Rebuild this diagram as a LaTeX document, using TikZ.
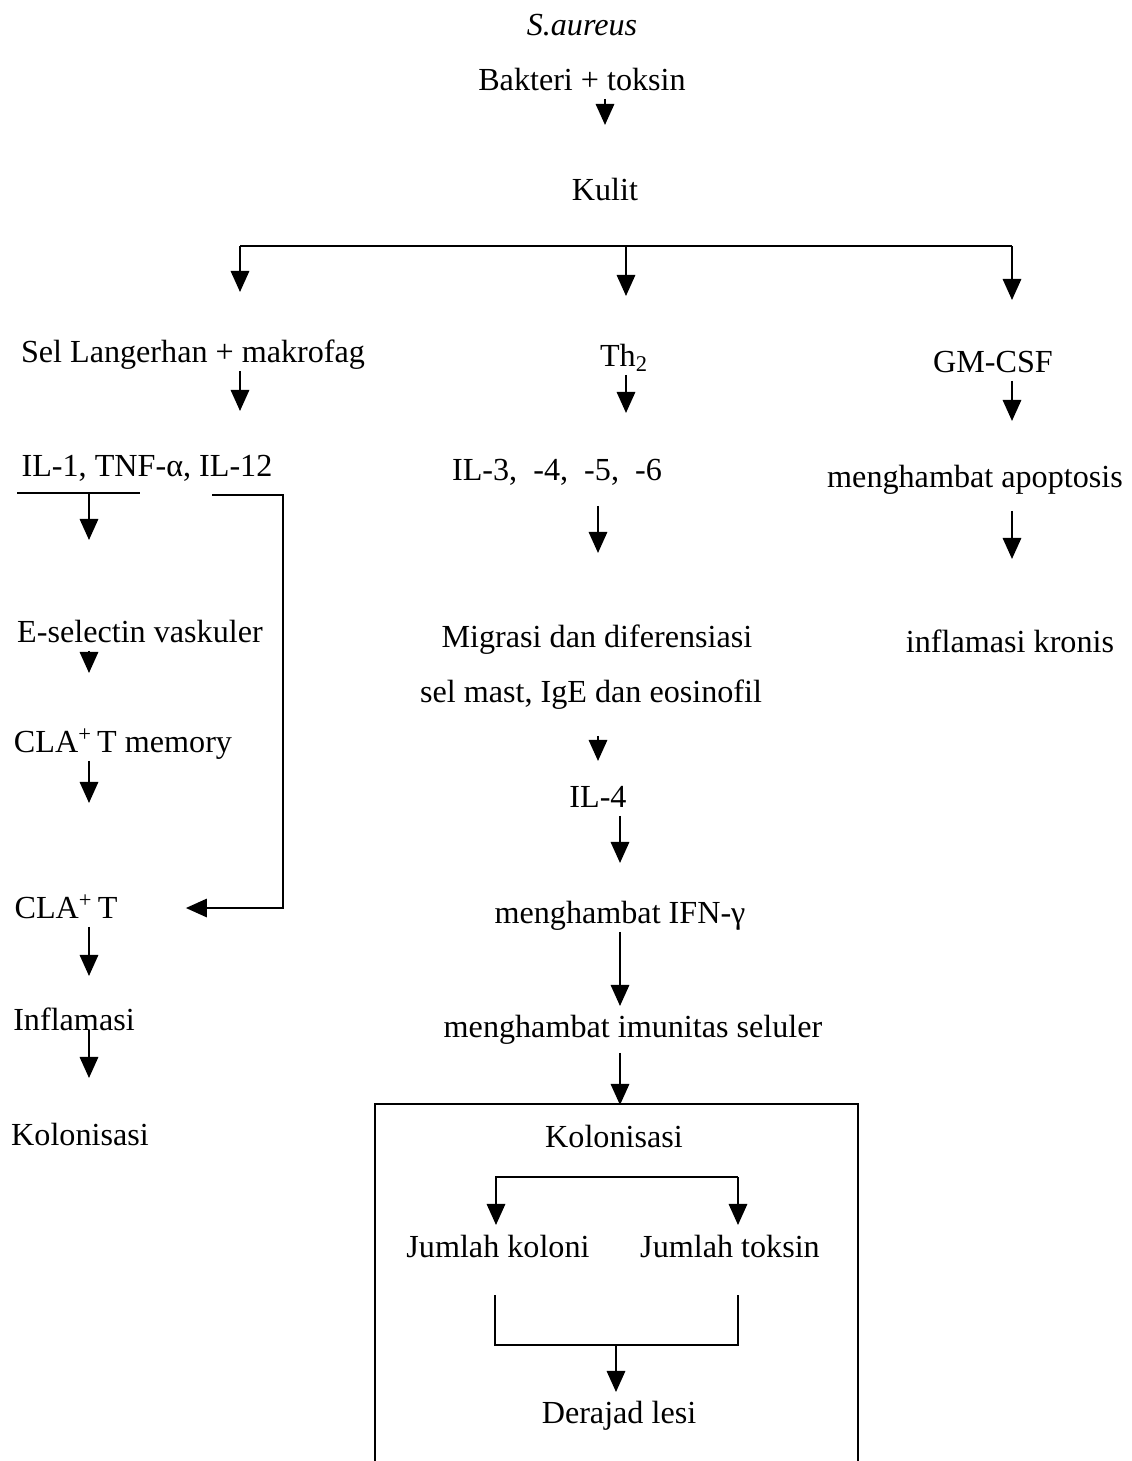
\documentclass[tikz,border=0pt]{standalone}
\usepackage{fontspec}
\setmainfont{Liberation Serif}
\usetikzlibrary{arrows.meta}

\tikzset{
  lbl/.style={font=\fontsize{18.3}{22}\selectfont, text height=14.5pt, text depth=2pt, inner sep=2pt},
  arr/.style={->}
}

\begin{document}
\begin{tikzpicture}[x=0.02cm, y=-0.02cm, >={Triangle[length=12pt,width=10.5pt]}, line width=1.1pt, every node/.style={lbl}]
	\useasboundingbox (0,0) rectangle (1132,1461);

	% columns for the arrows
	\coordinate (cA) at (240,0);
	\coordinate (cB) at (626,0);
	\coordinate (cC) at (1012,0);
	\coordinate (cL) at (89,0);
	\coordinate (cM) at (598,0);
	\coordinate (cN) at (620,0);
	\coordinate (cR) at (283,0);

	\node (sa)   at (582,25)   {\textit{S.aureus}};
	\node (bak)  at (582,80)   {Bakteri + toksin};
	\node (kul)  at (605,190)  {Kulit};

	\node (lang) at (193,352)  {Sel Langerhan + makrofag};
	\node (th)   at (624,356)  {Th\textsubscript{2}};
	\node (gm)   at (993,362)  {GM-CSF};

	\node (il1)  at (147,466)  {IL-1, TNF-α, IL-12};
	\node (il3)  at (557,470)  {IL-3,\ \ -4,\ \ -5,\ \ -6};
	\node (apo)  at (975,477)  {menghambat apoptosis};

	\node (esel) at (140,632)  {E-selectin vaskuler};
	\node (mig1) at (597,637)  {Migrasi dan diferensiasi};
	\node (mig2) at (591,692)  {sel mast, IgE dan eosinofil};
	\node (kron) at (1010,642) {inflamasi kronis};

	\node (clam) at (123,742)  {CLA\textsuperscript{+}\,T memory};
	\node (il4)  at (598,797)  {IL-4};
	\node (cla)  at (66,908)   {CLA\textsuperscript{+}\,T};
	\node (ifn)  at (620,913)  {menghambat IFN-γ};
	\node (infl) at (74,1020)  {Inflamasi};
	\node (imu)  at (633,1027) {menghambat imunitas seluler};
	\node (kolL) at (80,1135)  {Kolonisasi};

	\node (kol)  at (614,1137) {Kolonisasi};
	\node (jkol) at (498,1247) {Jumlah koloni};
	\node (jtok) at (730,1247) {Jumlah toksin};
	\node (der)  at (619,1413) {Derajad lesi};

	% top
	\draw[arr] (bak.south -| kul) -- ++(0,26);

	% three branches
	\coordinate (br) at (626,246);
	\draw (br -| cA) -- (br -| cC);
	\draw[arr] (br -| cA) -- ++(0,46);
	\draw[arr] (br) -- ++(0,50);
	\draw[arr] (br -| cC) -- ++(0,54);

	\draw[arr] (lang.south -| cA) -- ++(0,40);
	\draw[arr] (th.south -| cB) -- ++(0,38);
	\draw[arr] (gm.south -| cC) -- ++(0,40);

	% left column
	\coordinate (ulA) at (17,493);
	\coordinate (ulB) at (140,493);
	\coordinate (ulC) at (212,495);
	\draw (ulA) -- (ulB);
	\draw[arr] (ulA -| cL) -- ++(0,47);
	\draw[arr, shorten >=1.28cm] (ulC) -| (cR |- cla) -- (cla);
	\draw[arr] (esel.south -| cL) -- ++(0,22);
	\draw[arr] (clam.south -| cL) -- ++(0,42);
	\draw[arr] (cla.south -| cL) -- ++(0,49);
	\draw[arr, shorten <=0.2cm] (infl.center -| cL) -- ++(0,58);

	% middle column
	\draw[arr, shorten <=0.34cm] (il3.south -| cM) -- ++(0,64);
	\draw[arr, shorten <=0.5cm] (mig2.south -| cM) -- ++(0,50);
	\draw[arr] (il4.south -| cN) -- ++(0,47);
	\draw[arr] (ifn.south -| cN) -- ++(0,74);
	\draw[arr, shorten <=0.14cm] (imu.south -| cN) -- ++(0,59);

	% right column
	\draw[arr, shorten <=0.3cm] (apo.south -| cC) -- ++(0,63);

	% box
	\draw (375,1461) |- (858,1104) -- (858,1461);

	\coordinate (kbL) at (496,1177);
	\coordinate (kbR) at (738,1177);
	\draw[arr] (kbR) -- (kbL) -- ++(0,48);
	\draw[arr] (kbR) -- ++(0,48);

	\coordinate (mgL) at (495,1295);
	\coordinate (mgR) at (738,1295);
	\coordinate (mg) at (616,1345);
	\draw (mgL) |- (mg) -| (mgR);
	\draw[arr] (mg) -- ++(0,47);
\end{tikzpicture}
\end{document}
